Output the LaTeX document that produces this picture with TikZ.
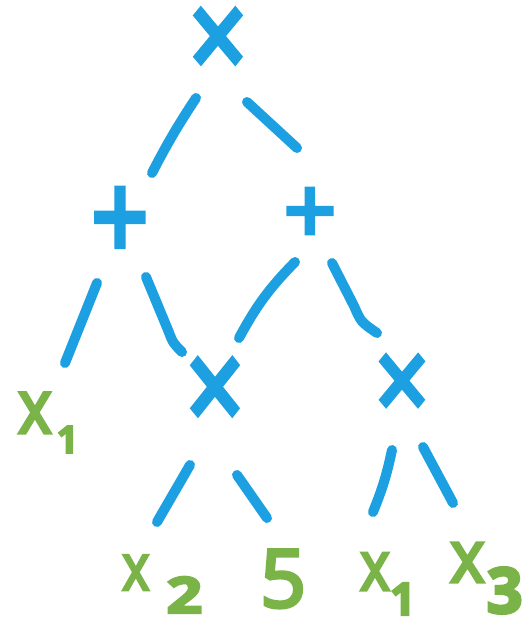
\documentclass[tikz,border=0pt]{standalone}
\usepackage{fontspec}
\setmainfont{Open Sans}
\newfontfamily\semi[FakeBold=4.5]{Open Sans}
\usetikzlibrary{calc}
\definecolor{hblue}{RGB}{28,160,226}
\definecolor{hgreen}{RGB}{122,180,72}
\newcommand\fs[1]{\fontsize{#1}{#1}\selectfont}
\begin{document}
\begin{tikzpicture}[x=1pt,y=-1pt,
  op/.style={text=hblue,font=\semi,inner sep=0pt},
  leaf/.style={text=hgreen,font=\semi,inner sep=0pt,anchor=base west},
  edge/.style={draw=hblue,line width=10pt,line cap=round}]
\useasboundingbox[fill=white] (0,0) rectangle (527,620);
% operators
\node[op] (T)  at (218,44)  {\scalebox{1}[1.2]{\fs{100}×}};
\node[op] (PL) at (120,224) {\scalebox{1}[1.2]{\fs{100}+}};
\node[op] (PR) at (310,216) {\fs{92}+};
\node[op] (MM) at (215,395) {\scalebox{1}[1.25]{\fs{100}×}};
\node[op] (MR) at (402,388) {\scalebox{1}[1.2]{\fs{93}×}};
% leaves
\node[leaf] (x1L) at (18,433) {\scalebox{0.85}[1]{\fs{75}x}\kern5pt\raisebox{-20pt}{\bfseries\fs{38}1}};
\node[leaf] (x2) at (122,590) {\scalebox{0.8}[1]{\fs{65}x}\kern17pt\raisebox{-23pt}{\bfseries\scalebox{1.25}[1]{\fs{50}2}}};
\node[leaf] (n5) at (260,607) {\fs{80}5};
\node[leaf] (x1R) at (360,590) {\scalebox{0.82}[1]{\fs{69}x}\kern0pt\raisebox{-25pt}{\bfseries\fs{45}1}};
\node[leaf] (x3) at (450,582) {\scalebox{0.9}[1]{\fs{73}x}\kern2pt\raisebox{-31pt}{\bfseries\fs{63}3}};
% connectors
\draw[edge] ($(T)+(-22,54)$) to[bend right=3] ($(PL)+(32,-51)$);
\draw[edge] ($(T)+(29,58)$) -- ($(PR)+(-13,-68)$);
\draw[edge] ($(PL)+(-23,59)$) -- ($(x1L.base west)+(47,-70)$);
\draw[edge] ($(PL)+(26,53)$) -- ($(PL)+(48,106)$) .. controls ($(PL)+(53,119)$) .. ($(MM)+(-33,-43)$);
\draw[edge] ($(PR)+(-15,46)$) to[bend right=8] ($(MM)+(24,-57)$);
\draw[edge] ($(PR)+(22,47)$) -- ($(PR)+(44,90)$) .. controls ($(PR)+(51,106)$) .. ($(MR)+(-25,-55)$);
\draw[edge] ($(MM)+(-25,70)$) -- ($(x2.base west)+(35,-68)$);
\draw[edge] ($(MM)+(22,80)$) -- ($(n5.base west)+(7,-89)$);
\draw[edge] ($(MR)+(-10,62)$) to[bend left=5] ($(x1R.base west)+(13,-78)$);
\draw[edge] ($(MR)+(21,59)$) -- ($(x3.base west)+(3,-79)$);
\end{tikzpicture}
\end{document}
